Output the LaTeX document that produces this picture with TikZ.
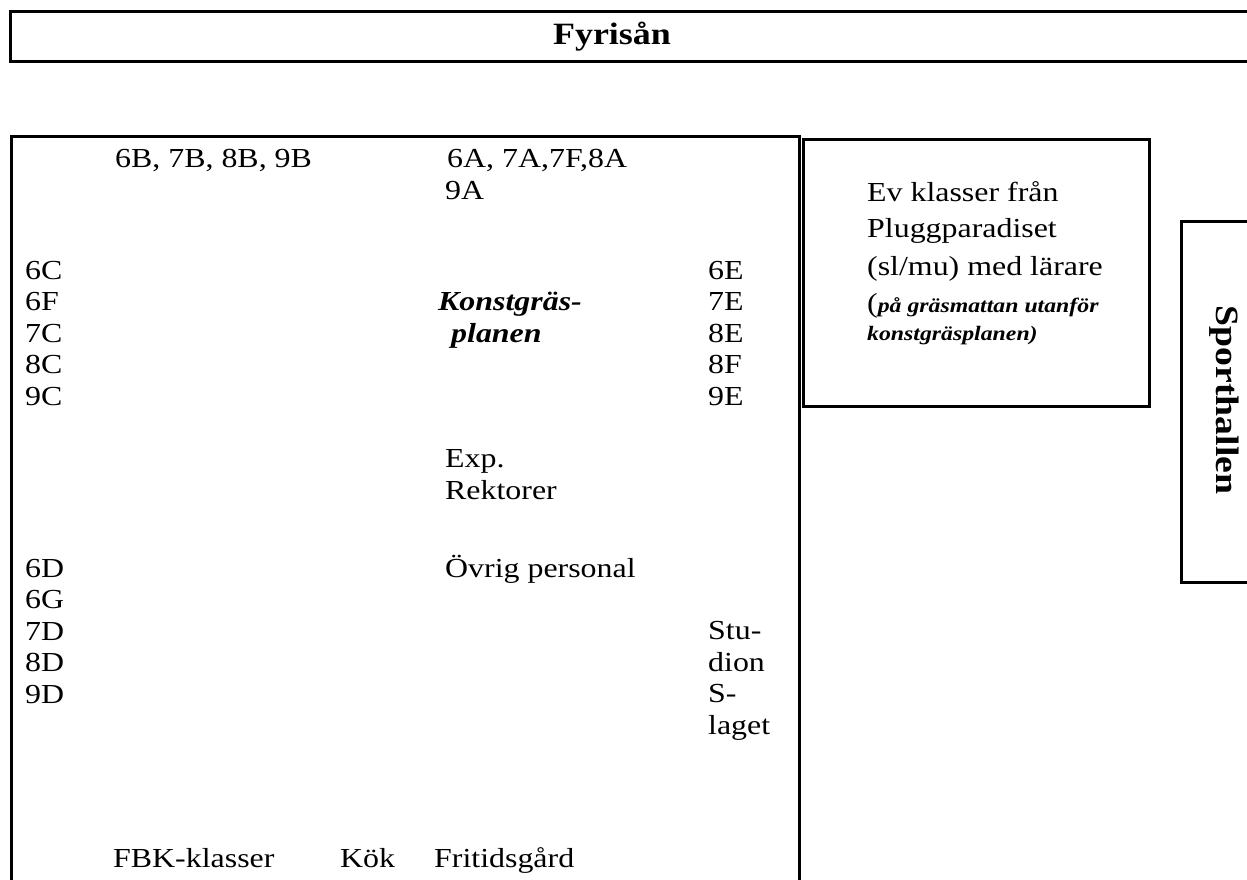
\documentclass[tikz,border=0pt]{standalone}
\usepackage{fontspec}
\setmainfont[FakeStretch=1.16]{Liberation Serif}
\usepackage{tikz}
\usepackage{xcolor}
\tikzset{
    plan-wall/.style = {draw=black, line width=3pt},
    plan-label/.style = {anchor=base west, inner sep=0pt, align=left, font=\fontsize{27.5}{31.5}\selectfont},
    plan-title/.style = {inner sep=0pt, font=\fontsize{31}{34}\selectfont\bfseries},
    plan-note/.style = {anchor=base west, inner sep=0pt, font=\fontsize{20.5}{24}\selectfont\bfseries\itshape},
}

\begin{document}
\begin{tikzpicture}[x=1pt, y=-1pt]
\useasboundingbox (0,0) rectangle (1247,880);
% walls
\draw[plan-wall] (10,12) rectangle (1262,62);
\draw[plan-wall] (11,900) -- (11,137) -- (799,137) -- (799,900);
\draw[plan-wall] (803,140) rectangle (1149,406);
\draw[plan-wall] (1262,221) -- (1181,221) -- (1181,582) -- (1262,582);
% titles
\node[plan-title] (fyrisan) at (612,37) {Fyrisån};
\node[plan-title, rotate=-90, font=\fontsize{32.5}{36}\selectfont\bfseries] (sporthallen) at (1224,400) {Sporthallen};
% classes on the field (anchor = baseline of last line)
\node[plan-label] (row-b) at (115,167) {6B, 7B, 8B, 9B};
\node[plan-label] (row-a) at (445,199) {\hspace*{2pt}6A, 7A,7F,8A\\9A};
\node[plan-label] (col-c) at (25,405) {6C\\6F\\7C\\8C\\9C};
\node[plan-label] (col-e) at (708,405) {6E\\7E\\8E\\8F\\9E};
\node[plan-label, font=\fontsize{27.5}{31.5}\selectfont\bfseries\itshape] (field) at (438,342) {Konstgräs-\\\hspace*{13pt}planen};
\node[plan-label] (office) at (445,499) {Exp.\\Rektorer};
\node[plan-label] (staff) at (445,577) {Övrig personal};
\node[plan-label] (col-d) at (25,703) {6D\\6G\\7D\\8D\\9D};
\node[plan-label] (studion) at (708,734) {Stu-\\dion\\S-\\laget};
% bottom row
\node[plan-label] (fbk) at (113,867) {FBK-klasser};
\node[plan-label] (kok) at (340,867) {Kök};
\node[plan-label] (fritid) at (434,867) {Fritidsgård};
% pluggparadiset
\node[plan-label] (plugg-1) at (867,201) {Ev klasser från};
\node[plan-label] (plugg-2) at (867,237) {Pluggparadiset};
\node[plan-label] (plugg-3) at (867,275) {(sl/mu) med lärare};
\node[plan-label] (plugg-4) at (867,312) {(\textbf{\itshape\fontsize{20.5}{24}\selectfont på gräsmattan utanför}};
\node[plan-note] (plugg-5) at (867,340) {konstgräsplanen)};
\end{tikzpicture}
\end{document}
